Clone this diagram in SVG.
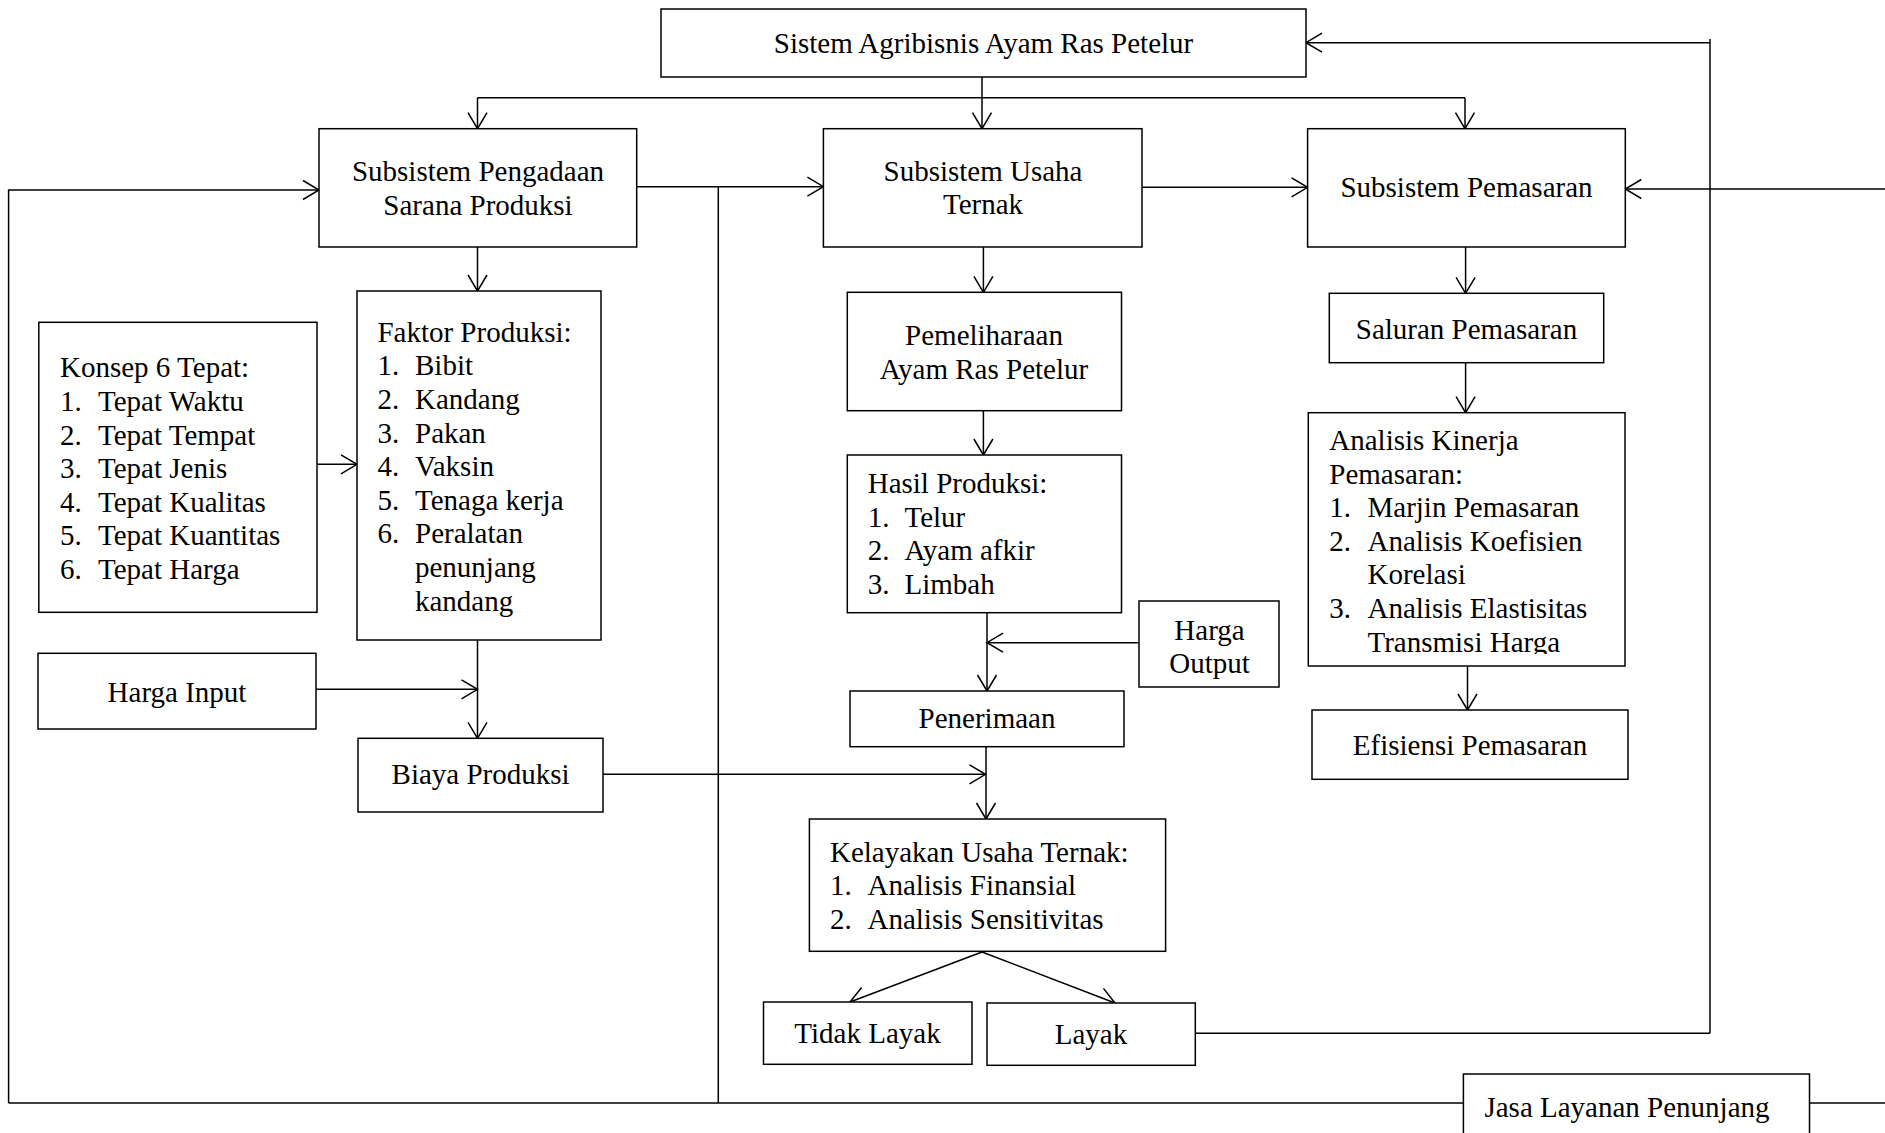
<svg xmlns="http://www.w3.org/2000/svg" width="1885" height="1133" viewBox="0 0 1885 1133">
<defs>
<style>
.box{fill:#fff;stroke:#000;stroke-width:1.5}
.ln{fill:none;stroke:#000;stroke-width:1.5}
.ar{marker-end:url(#arr)}
text{font-family:"Liberation Serif","Times New Roman",serif;font-size:29px;fill:#000}
.c{text-anchor:middle}
</style>
<marker id="arr" markerUnits="userSpaceOnUse" viewBox="-20 -12 22 24" refX="0" refY="0" markerWidth="22" markerHeight="24" orient="auto">
<path d="M-16,-9.5 L0,0 L-16,9.5" fill="none" stroke="#000" stroke-width="1.5"/>
</marker>
<clipPath id="clipA"><rect x="1300" y="400" width="340" height="254"/></clipPath>
</defs>
<rect width="1885" height="1133" fill="#fff"/>

<g id="connectors">
<line class="ln ar" x1="982" y1="77" x2="982" y2="128.7"/>
<line class="ln" x1="477.5" y1="97.7" x2="1465" y2="97.7"/>
<line class="ln ar" x1="477.5" y1="97.7" x2="477.5" y2="128.7"/>
<line class="ln ar" x1="1465" y1="97.7" x2="1465" y2="128.7"/>
<polyline class="ln ar" points="8.6,1103 8.6,190 319,190"/>
<line class="ln ar" x1="636.7" y1="186.7" x2="823.4" y2="186.7"/>
<line class="ln" x1="718.3" y1="186.7" x2="718.3" y2="1103"/>
<line class="ln ar" x1="1142" y1="187.3" x2="1307.6" y2="187.3"/>
<line class="ln ar" x1="1885" y1="189" x2="1625.3" y2="189"/>
<line class="ln" x1="1710" y1="39" x2="1710" y2="1033.3"/>
<line class="ln ar" x1="1710" y1="42.7" x2="1306" y2="42.7"/>
<line class="ln" x1="1195.3" y1="1033.3" x2="1710" y2="1033.3"/>
<line class="ln" x1="8.6" y1="1103" x2="1463.4" y2="1103"/>
<line class="ln" x1="1809.5" y1="1103" x2="1885" y2="1103"/>
<line class="ln ar" x1="477.5" y1="247" x2="477.5" y2="291"/>
<line class="ln ar" x1="317" y1="464.3" x2="357" y2="464.3"/>
<line class="ln ar" x1="477.5" y1="640" x2="477.5" y2="738.3"/>
<line class="ln ar" x1="316" y1="689.3" x2="477.5" y2="689.3"/>
<line class="ln ar" x1="603" y1="774.3" x2="985.5" y2="774.3"/>
<line class="ln ar" x1="983.4" y1="247" x2="983.4" y2="292.3"/>
<line class="ln ar" x1="983.4" y1="410.7" x2="983.4" y2="455"/>
<line class="ln ar" x1="987" y1="612.7" x2="987" y2="691"/>
<line class="ln ar" x1="1139" y1="642.7" x2="987" y2="642.7"/>
<line class="ln ar" x1="986" y1="746.7" x2="986" y2="819"/>
<line class="ln ar" x1="982" y1="952" x2="850" y2="1002"/>
<line class="ln ar" x1="982" y1="952" x2="1115" y2="1003"/>
<line class="ln ar" x1="1465.6" y1="247" x2="1465.6" y2="293.3"/>
<line class="ln ar" x1="1465.6" y1="362.7" x2="1465.6" y2="412.7"/>
<line class="ln ar" x1="1467.5" y1="666" x2="1467.5" y2="710"/>
</g>

<g id="sistem">
<rect class="box" x="661" y="9" width="645" height="68"/>
<text class="c" x="983.5" y="53">Sistem Agribisnis Ayam Ras Petelur</text>
</g>

<g id="pengadaan">
<rect class="box" x="319" y="128.7" width="317.7" height="118.3"/>
<text class="c" x="478" y="181">Subsistem Pengadaan</text>
<text class="c" x="478" y="214.5">Sarana Produksi</text>
</g>

<g id="usaha">
<rect class="box" x="823.4" y="128.7" width="318.6" height="118.3"/>
<text class="c" x="983" y="180.5">Subsistem Usaha</text>
<text class="c" x="983" y="214">Ternak</text>
</g>

<g id="pemasaran">
<rect class="box" x="1307.6" y="128.7" width="317.7" height="118.3"/>
<text class="c" x="1466.5" y="197.3">Subsistem Pemasaran</text>
</g>

<g id="konsep">
<rect class="box" x="38.8" y="322.3" width="278.2" height="290"/>
<text x="60" y="377.3">Konsep 6 Tepat:</text>
<text x="60" y="410.9">1.</text><text x="98" y="410.9">Tepat Waktu</text>
<text x="60" y="444.5">2.</text><text x="98" y="444.5">Tepat Tempat</text>
<text x="60" y="478.1">3.</text><text x="98" y="478.1">Tepat Jenis</text>
<text x="60" y="511.7">4.</text><text x="98" y="511.7">Tepat Kualitas</text>
<text x="60" y="545.3">5.</text><text x="98" y="545.3">Tepat Kuantitas</text>
<text x="60" y="578.9">6.</text><text x="98" y="578.9">Tepat Harga</text>
</g>

<g id="faktor">
<rect class="box" x="357" y="291" width="244" height="349"/>
<text x="377.4" y="341.7">Faktor Produksi:</text>
<text x="377.4" y="375.3">1.</text><text x="415" y="375.3">Bibit</text>
<text x="377.4" y="408.9">2.</text><text x="415" y="408.9">Kandang</text>
<text x="377.4" y="442.5">3.</text><text x="415" y="442.5">Pakan</text>
<text x="377.4" y="476.1">4.</text><text x="415" y="476.1">Vaksin</text>
<text x="377.4" y="509.7">5.</text><text x="415" y="509.7">Tenaga kerja</text>
<text x="377.4" y="543.3">6.</text><text x="415" y="543.3">Peralatan</text>
<text x="415" y="576.9">penunjang</text>
<text x="415" y="610.5">kandang</text>
</g>

<g id="harga-input">
<rect class="box" x="38" y="653.3" width="278" height="75.7"/>
<text class="c" x="177" y="701.5">Harga Input</text>
</g>

<g id="biaya">
<rect class="box" x="358" y="738.3" width="245" height="73.7"/>
<text class="c" x="480.6" y="784">Biaya Produksi</text>
</g>

<g id="pemeliharaan">
<rect class="box" x="847.3" y="292.3" width="274.2" height="118.4"/>
<text class="c" x="984" y="345">Pemeliharaan</text>
<text class="c" x="984" y="378.5">Ayam Ras Petelur</text>
</g>

<g id="hasil">
<rect class="box" x="847.3" y="455" width="274.2" height="157.7"/>
<text x="867.7" y="493.3">Hasil Produksi:</text>
<text x="867.7" y="526.8">1.</text><text x="904.5" y="526.8">Telur</text>
<text x="867.7" y="560.3">2.</text><text x="904.5" y="560.3">Ayam afkir</text>
<text x="867.7" y="593.8">3.</text><text x="904.5" y="593.8">Limbah</text>
</g>

<g id="harga-output">
<rect class="box" x="1139" y="601" width="140" height="86"/>
<text class="c" x="1209.5" y="640">Harga</text>
<text class="c" x="1209.5" y="673.3">Output</text>
</g>

<g id="penerimaan">
<rect class="box" x="850" y="691" width="274" height="55.7"/>
<text class="c" x="987" y="728">Penerimaan</text>
</g>

<g id="kelayakan">
<rect class="box" x="809.4" y="819" width="356.2" height="132.3"/>
<text x="830" y="861.7">Kelayakan Usaha Ternak:</text>
<text x="830" y="895.3">1.</text><text x="867.5" y="895.3">Analisis Finansial</text>
<text x="830" y="928.9">2.</text><text x="867.5" y="928.9">Analisis Sensitivitas</text>
</g>

<g id="tidak-layak">
<rect class="box" x="763.5" y="1002" width="208.5" height="62.3"/>
<text class="c" x="867.5" y="1043">Tidak Layak</text>
</g>

<g id="layak">
<rect class="box" x="987" y="1003" width="208.3" height="62.3"/>
<text class="c" x="1091" y="1043.5">Layak</text>
</g>

<g id="saluran">
<rect class="box" x="1329.3" y="293.3" width="274.4" height="69.4"/>
<text class="c" x="1466.5" y="339.3">Saluran Pemasaran</text>
</g>

<g id="analisis">
<rect class="box" x="1308.3" y="412.7" width="316.7" height="253.3"/>
<text x="1329.3" y="450">Analisis Kinerja</text>
<text x="1329.3" y="483.5">Pemasaran:</text>
<text x="1329.3" y="517.1">1.</text><text x="1367.5" y="517.1">Marjin Pemasaran</text>
<text x="1329.3" y="550.7">2.</text><text x="1367.5" y="550.7">Analisis Koefisien</text>
<text x="1367.5" y="584.3">Korelasi</text>
<text x="1329.3" y="617.9">3.</text><text x="1367.5" y="617.9">Analisis Elastisitas</text>
<text x="1367.5" y="651.5" clip-path="url(#clipA)">Transmisi Harga</text>
</g>

<g id="efisiensi">
<rect class="box" x="1312" y="710" width="316" height="69.3"/>
<text class="c" x="1470" y="754.5">Efisiensi Pemasaran</text>
</g>

<g id="jasa">
<rect class="box" x="1463.4" y="1074" width="346.1" height="80"/>
<text class="c" x="1627" y="1117">Jasa Layanan Penunjang</text>
</g>
</svg>
